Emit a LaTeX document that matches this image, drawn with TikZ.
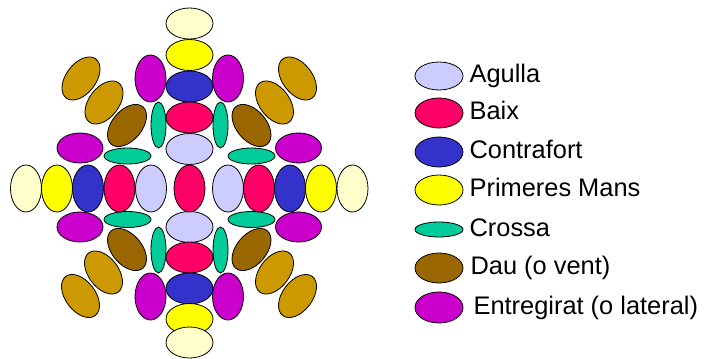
\documentclass[tikz,border=0pt]{standalone}
\usepackage{fontspec}
\setmainfont{Liberation Sans}
\usepackage{tikz}
\usetikzlibrary{shapes.geometric, positioning}

\definecolor{agulla}{HTML}{CCCCFF}
\definecolor{baix}{HTML}{FF0066}
\definecolor{contrafort}{HTML}{3333CC}
\definecolor{mans}{HTML}{FFFF00}
\definecolor{crossa}{HTML}{00CC99}
\definecolor{dau}{HTML}{996600}
\definecolor{lateral}{HTML}{CC00CC}
\definecolor{terc}{HTML}{FFFFCC}
\definecolor{vent}{HTML}{CC9900}

\begin{document}
\begin{tikzpicture}[
    x=1pt, y=-1pt,
    every node/.style={font=\fontsize{25.4}{30}\selectfont},
    peu/.style={ellipse, draw, line width=0.8pt, fill=#1, inner sep=0pt},
    ajagut/.style={peu=#1, minimum width=47pt, minimum height=31pt},
    dret/.style={peu=#1, minimum width=31pt, minimum height=47pt},
    crossah/.style={peu=crossa, minimum width=47pt, minimum height=16pt},
    crossav/.style={peu=crossa, minimum width=15pt, minimum height=46pt},
    biaix/.style={peu=#1, minimum width=49pt, minimum height=30pt},
    lab/.style={inner sep=0pt, text height=18pt, text depth=5pt}
]
\useasboundingbox (0,0) rectangle (710,359);

% Vents (diagonals)
\node[biaix=vent, rotate=53] (vNW2) at (81,78.5) {};
\node[biaix=vent, rotate=-53] (vNE2) at (297.5,78.5) {};
\node[biaix=vent, rotate=-53] (vSW2) at (80.5,296) {};
\node[biaix=vent, rotate=53] (vSE2) at (297.5,296) {};
\node[biaix=vent, rotate=53] (vNW1) at (104,102.5) {};
\node[biaix=vent, rotate=-53] (vNE1) at (274.5,102.5) {};
\node[biaix=vent, rotate=-53] (vSW1) at (103.5,272.5) {};
\node[biaix=vent, rotate=53] (vSE1) at (274.5,272.5) {};

% Daus
\node[biaix=dau, rotate=50] (dNW) at (127,125.5) {};
\node[biaix=dau, rotate=-50] (dNE) at (251.5,125.5) {};
\node[biaix=dau, rotate=-50] (dSW) at (127,249.5) {};
\node[biaix=dau, rotate=50] (dSE) at (251.5,249.5) {};

% Crosses
\node[crossav] (cNW) at (158.5,125) {};
\node[crossav] (cNE) at (220.5,125) {};
\node[crossav] (cSW) at (158.5,250) {};
\node[crossav] (cSE) at (220.5,250) {};
\node[crossah] (cWN) at (127.5,156) {};
\node[crossah] (cEN) at (251.5,156) {};
\node[crossah] (cWS) at (127.5,219.5) {};
\node[crossah] (cES) at (251.5,219.5) {};

% Entregirats
\node[dret=lateral] (eNW) at (150.5,78.5) {};
\node[dret=lateral] (eNE) at (228,78.5) {};
\node[dret=lateral] (eSW) at (150.5,296.5) {};
\node[dret=lateral] (eSE) at (228,296.5) {};
\node[ajagut=lateral, minimum width=46pt, minimum height=30pt] (eWN) at (80,148) {};
\node[ajagut=lateral, minimum width=46pt, minimum height=30pt] (eEN) at (298.5,148) {};
\node[ajagut=lateral, minimum width=46pt, minimum height=30pt] (eWS) at (80,227) {};
\node[ajagut=lateral, minimum width=46pt, minimum height=30pt] (eES) at (298.5,227) {};

% North column
\node[ajagut=terc] (tN) at (189.5,23.5) {};
\node[ajagut=mans] (mN) at (189.5,55) {};
\node[ajagut=contrafort] (kN) at (189.5,86.5) {};
\node[ajagut=baix] (bN) at (189.5,117.5) {};
\node[ajagut=agulla] (aN) at (189.5,149) {};

% South column
\node[ajagut=agulla] (aS) at (189.5,227) {};
\node[ajagut=baix] (bS) at (189.5,257.5) {};
\node[ajagut=contrafort] (kS) at (189.5,288.5) {};
\node[ajagut=mans] (mS) at (189.5,319) {};
\node[ajagut=terc] (tS) at (189.5,342.5) {};

% West and east rows
\node[dret=terc] (tW) at (26,188.5) {};
\node[dret=mans] (mW) at (57,188.5) {};
\node[dret=contrafort] (kW) at (88,188.5) {};
\node[dret=baix] (bW) at (119.5,188.5) {};
\node[dret=agulla] (aW) at (151,188.5) {};
\node[dret=baix] (centre) at (189.5,188.5) {};
\node[dret=agulla] (aE) at (228,188.5) {};
\node[dret=baix] (bE) at (259,188.5) {};
\node[dret=contrafort] (kE) at (290,188.5) {};
\node[dret=mans] (mE) at (321,188.5) {};
\node[dret=terc] (tE) at (352.5,188.5) {};

% Legend
\node[ajagut=agulla, minimum width=48pt, minimum height=28pt] (la) at (439,76) {};
\node[ajagut=baix, minimum width=48pt, minimum height=30pt] (lb) at (439,113) {};
\node[ajagut=contrafort, minimum width=48pt, minimum height=30pt] (lk) at (439,152) {};
\node[ajagut=mans, minimum width=48pt, minimum height=30pt] (lm) at (439,190) {};
\node[crossah, minimum width=48pt, minimum height=15pt] (lc) at (439,229.5) {};
\node[ajagut=dau, minimum width=48pt, minimum height=30pt] (ld) at (439,268) {};
\node[ajagut=lateral, minimum width=48pt, minimum height=31pt] (le) at (439,307.5) {};

\node[lab, right=6pt of la] (ta) {Agulla};
\node[lab, right=6pt of lb] (tb) {Baix};
\node[lab, right=6pt of lk] (tk) {Contrafort};
\node[lab, right=6pt of lm] (tm) {Primeres Mans};
\node[lab, right=6pt of lc] (tc) {Crossa};
\node[lab, right=7pt of ld] (td) {Dau (o vent)};
\node[lab, right=10pt of le] (te) {Entregirat (o lateral)};

\end{tikzpicture}
\end{document}
